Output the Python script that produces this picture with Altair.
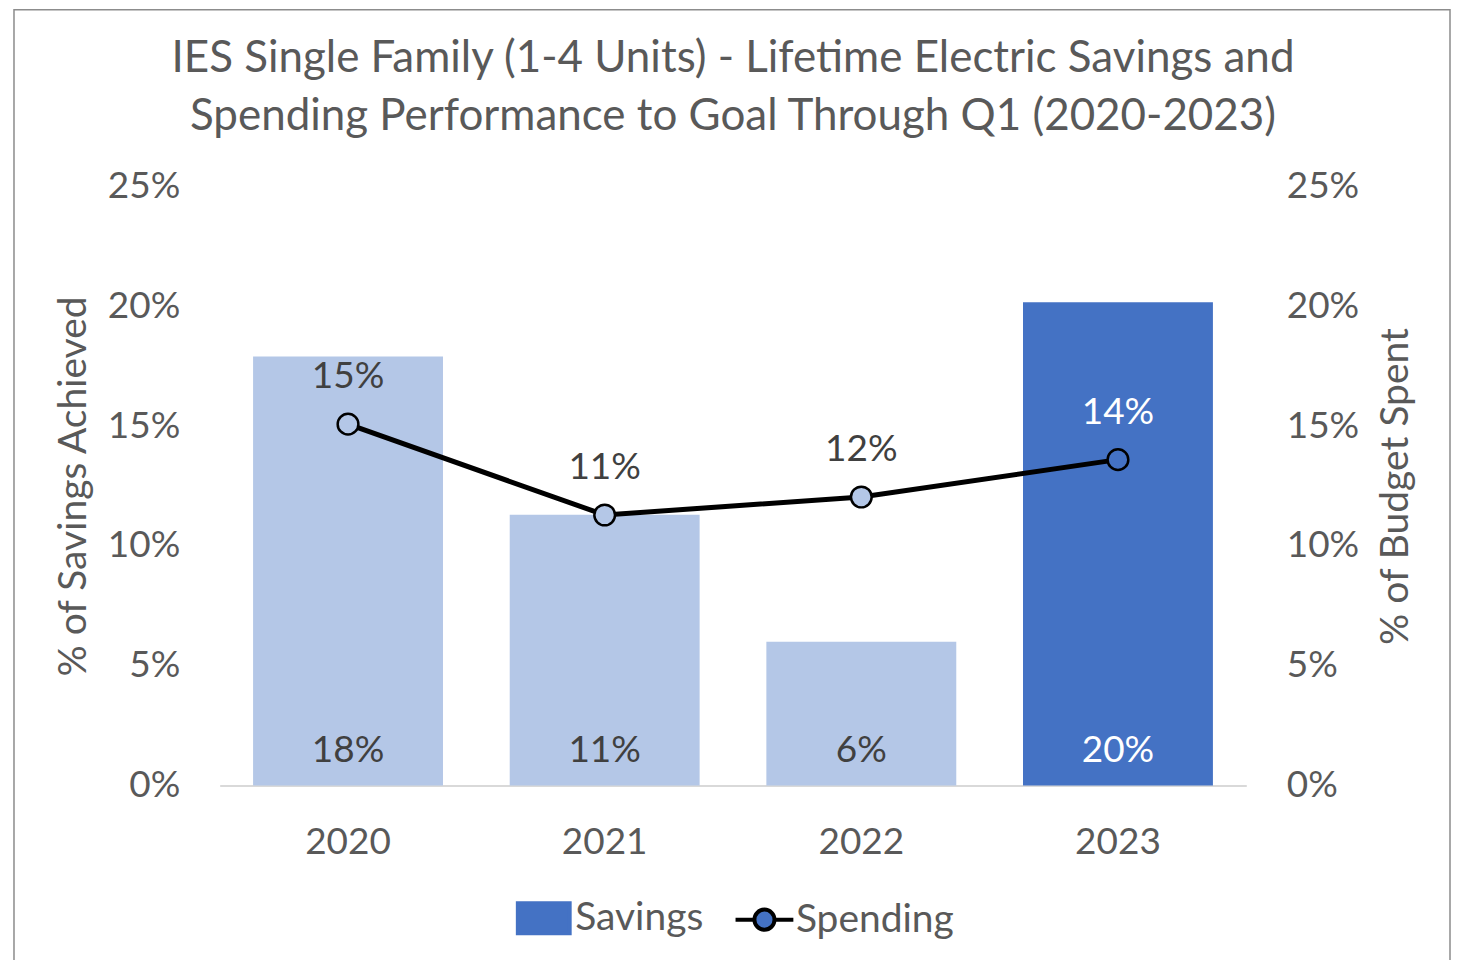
import altair as alt
import pandas as pd

years = ["2020", "2021", "2022", "2023"]
savings = [0.179, 0.113, 0.060, 0.2017]
spending = [0.1508, 0.1129, 0.1204, 0.1360]
series = ["Savings", "Spending"]
title_lines = ["IES Single Family (1-4 Units) - Lifetime Electric Savings and",
               "Spending Performance to Goal Through Q1 (2020-2023)"]
tick_values = [0, 0.05, 0.10, 0.15, 0.20, 0.25]
highlight_year = "2023"

LIGHT = "#B4C7E7"
DARK = "#4472C4"
GREY = "#595959"
FONT = "Lato"
FS = 37

df = pd.DataFrame({"Year": years, "Savings": savings, "Spending": spending})
legend_df = pd.DataFrame({"series": series})

xenc = alt.X("Year:N", scale=alt.Scale(paddingInner=0.26, paddingOuter=0.13),
             axis=alt.Axis(title=None, labelAngle=0, labelFontSize=FS, labelFont=FONT,
                           labelColor=GREY, labelPadding=39, ticks=False,
                           domainColor="#D9D9D9", domainWidth=2))
yscale = alt.Scale(domain=[0, 0.25])
is_hi = alt.datum.Year == highlight_year

left_axis = alt.Axis(title="% of Savings Achieved", format=".0%", values=tick_values,
                     labelFontSize=FS, labelFont=FONT, labelColor=GREY, labelPadding=40,
                     titleFontSize=39, titleFont=FONT, titleColor=GREY, titleFontWeight="normal",
                     titlePadding=14, grid=False, ticks=False, domain=False)
right_axis = alt.Axis(title="% of Budget Spent", format=".0%", orient="right", values=tick_values,
                      labelFontSize=FS, labelFont=FONT, labelColor=GREY, labelPadding=40,
                      titleFontSize=39, titleFont=FONT, titleColor=GREY, titleFontWeight="normal",
                      titleAngle=270, titlePadding=57, grid=False, ticks=False, domain=False)

bars = alt.Chart(df).mark_bar().encode(
    x=xenc,
    y=alt.Y("Savings:Q", scale=yscale, axis=left_axis),
    color=alt.condition(is_hi, alt.value(DARK), alt.value(LIGHT)),
)

bar_text = alt.Chart(df).mark_text(font=FONT, fontSize=FS, baseline="middle", dy=-35).encode(
    x=alt.X("Year:N", bandPosition=0.5),
    y=alt.Y("zero:Q", scale=yscale, axis=left_axis),
    text=alt.Text("Savings:Q", format=".0%"),
    color=alt.condition(is_hi, alt.value("white"), alt.value("#404040")),
).transform_calculate(zero="0")

yline = alt.Y("Spending:Q", scale=yscale, axis=right_axis)

line = alt.Chart(df).mark_line(color="black", strokeWidth=5).encode(
    x=alt.X("Year:N", bandPosition=0.5), y=yline)

points = alt.Chart(df).mark_point(filled=True, size=430, stroke="black", strokeWidth=2.5, opacity=1).encode(
    x=alt.X("Year:N", bandPosition=0.5), y=yline,
    fill=alt.condition(is_hi, alt.value(DARK), alt.value(LIGHT)))

line_text = alt.Chart(df).mark_text(font=FONT, fontSize=FS, baseline="middle", dy=-47).encode(
    x=alt.X("Year:N", bandPosition=0.5), y=yline,
    text=alt.Text("Spending:Q", format=".0%"),
    color=alt.condition(is_hi, alt.value("white"), alt.value("#404040")))

rect_path = "M-1.73,-1H1.73V1H-1.73Z"
line_path = ("M-1.93,0H-0.67M0.67,0H1.93M0.67,0A0.67,0.67,0,1,1,-0.67,0"
             "A0.67,0.67,0,1,1,0.67,0Z")
leg = alt.Legend(title=None, orient="none", legendX=305, legendY=713, direction="horizontal",
                 labelFont=FONT, labelFontSize=39, labelColor=GREY, labelLimit=400,
                 symbolSize=900, labelOffset=12, columnPadding=23, symbolStrokeWidth=4,
                 symbolOpacity=1)
legend_layer = alt.Chart(legend_df).mark_point(filled=True, opacity=1).encode(
    shape=alt.Shape("series:N", scale=alt.Scale(domain=series, range=[rect_path, line_path]), legend=leg),
    fill=alt.Fill("series:N", scale=alt.Scale(domain=series, range=[DARK, DARK]), legend=leg),
    stroke=alt.Stroke("series:N", scale=alt.Scale(domain=series, range=[DARK, "black"]), legend=leg),
).transform_filter("false")

frame = alt.Chart(pd.DataFrame({"f": [0]})).mark_rect(fill=None, stroke="#8C8C8C", strokeWidth=1.5).encode(
    x=alt.value(-206), x2=alt.value(1232), y=alt.value(-177), y2=alt.value(800))

left = alt.layer(frame, bars, bar_text)
right = alt.layer(line, points, line_text, legend_layer)

chart = alt.layer(left, right).resolve_scale(y="independent").properties(
    width=1028, height=600,
    title=alt.TitleParams(text=title_lines, font=FONT, fontSize=44, fontWeight="normal",
                          color=GREY, lineHeight=58, anchor="middle", offset=-130),
    autosize=alt.AutoSizeParams(type="none"),
    padding={"left": 212, "top": 178, "right": 206, "bottom": 174},
).configure_view(stroke=None)

chart.save("out.html", embed_options={"renderer": "svg", "actions": False})
